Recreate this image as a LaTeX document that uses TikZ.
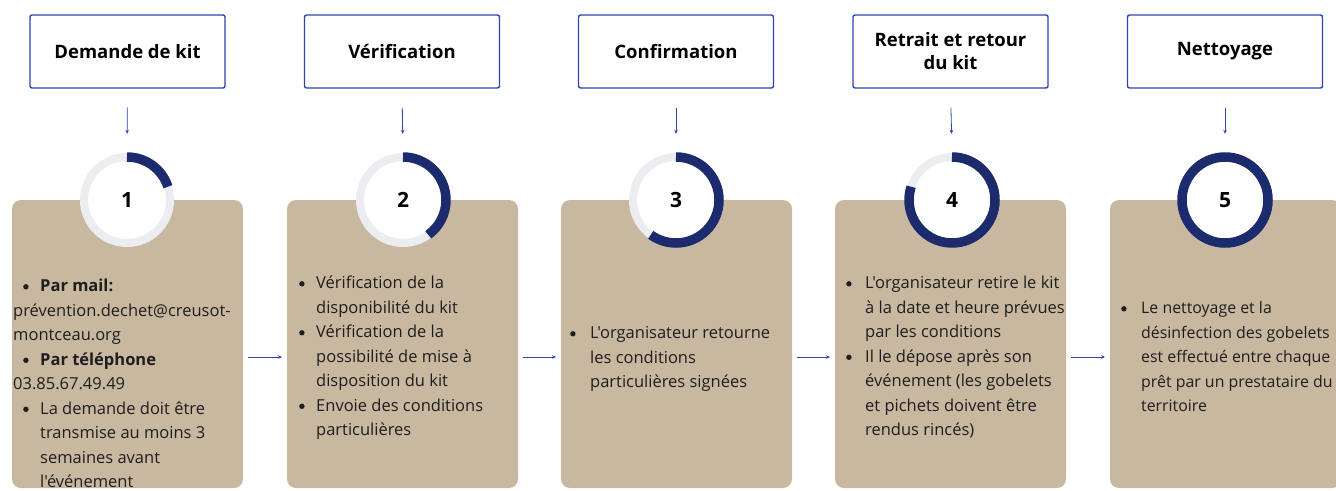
\documentclass[tikz,border=0pt]{standalone}
\usepackage{fontspec}
\setmainfont{Open Sans}[Ligatures=TeXOff]
\usetikzlibrary{arrows.meta}
\definecolor{tanbox}{HTML}{C9B8A0}
\definecolor{navy}{HTML}{1B2B6E}
\definecolor{ringgray}{HTML}{ECEDF0}
\definecolor{tblue}{HTML}{2E44B0}
\definecolor{txt}{HTML}{1E1E1E}
\newcommand{\bigdot}{\tikz[baseline=0pt]\fill[txt] (2.7pt,4.7pt) circle (2.7pt);}
\newcommand{\mybul}{\makebox[17pt][l]{\bigdot}}
\newcommand{\myind}{\hspace*{17pt}}
\newcommand{\bodytext}[2][16.5]{\parbox[t]{300pt}{\fontsize{#1}{24.5}\selectfont\raggedright #2}}
\tikzset{
  titlebox/.style={draw=tblue, line width=1.4pt, rounded corners=2pt, fill=white,
    minimum width=195pt, minimum height=73pt, align=center, inner sep=0pt,
    font=\fontsize{18.5}{23}\selectfont\bfseries, text=black},
  tancard/.style={fill=tanbox, rounded corners=9pt},
  stepcircle/.style={circle, minimum size=96pt, inner sep=0pt, font=\fontsize{21}{24}\selectfont\bfseries, text=black},
  bodynode/.style={anchor=base west, inner sep=0pt, text=txt},
  flow/.style={draw=tblue, line width=0.8pt, -{Stealth[length=4pt,width=3.5pt]}},
}
\begin{document}
\begin{tikzpicture}[x=1pt,y=-1pt]
\useasboundingbox (0,0) rectangle (1336,490);
\clip (0,0) rectangle (1336,490);
% tan cards
\foreach \c [count=\i] in {127.5,402.5,676.5,950.5,1225.5}{
  \path[tancard] (\c-115.5,200) rectangle (\c+115.5,488);
  \coordinate (cl\i) at (\c-115.5,357);
  \coordinate (cr\i) at (\c+115.5,357);
}
% title boxes
\node[titlebox] (t1) at (127.5,51.5) {Demande de kit};
\node[titlebox] (t2) at (402,51.5) {Vérification};
\node[titlebox] (t3) at (676,51.5) {Confirmation};
\node[titlebox] (t4) at (950.5,51.5) {Retrait et retour\\du kit};
\node[titlebox] (t5) at (1225,51.5) {Nettoyage};
% circles
\foreach \c/\k [count=\i] in {127/1,403/2,676/3,952/4,1225/5}{
  \draw[ringgray, line width=8pt, fill=white] (\c,200) circle (43);
  \draw[navy, line width=9.5pt] (\c,200) ++(-90:43) arc[start angle=-90, end angle=-90+72*\k, radius=43];
  \node[stepcircle] (s\i) at (\c,200) {\k};
}
% vertical arrows
\foreach \i in {1,...,5}{
  \draw[flow, shorten <=19pt, shorten >=18pt] (t\i.south) -- (s\i.north);
}
% horizontal connectors
\draw[flow, shorten <=5pt, shorten >=5pt] (cr1) -- (cl2);
\draw[flow, shorten <=5pt, shorten >=5pt] (cr2) -- (cl3);
\draw[flow, shorten <=5pt, shorten >=5pt] (cr3) -- (cl4);
\draw[flow, shorten <=5pt, shorten >=5pt] (cr4) -- (cl5);
% body texts
\node[bodynode] (b1) at (13,291.5) {\bodytext{%
\hspace*{10pt}\mybul\textbf{Par mail:}\\
prévention.dechet@creusot-\\
montceau.org\\
\hspace*{10pt}\mybul\textbf{Par téléphone}\\
03.85.67.49.49\\
\hspace*{10pt}\mybul La demande doit être\\
\hspace*{27pt}transmise au moins 3\\
\hspace*{27pt}semaines avant\\
\hspace*{27pt}l'événement}};
\node[bodynode] (b2) at (299,288.5) {\bodytext{%
\mybul Vérification de la\\
\myind disponibilité du kit\\
\mybul Vérification de la\\
\myind possibilité de mise à\\
\myind disposition du kit\\
\mybul Envoie des conditions\\
\myind particulières}};
\node[bodynode] (b3) at (570,338.5) {\bodytext{%
\makebox[20pt][l]{\bigdot}L'organisateur retourne\\
\hspace*{20pt}les conditions\\
\hspace*{20pt}particulières signées}};
\node[bodynode] (b4) at (846,288.5) {\bodytext{%
\makebox[19pt][l]{\bigdot}L'organisateur retire le kit\\
\hspace*{19pt}à la date et heure prévues\\
\hspace*{19pt}par les conditions\\
\makebox[19pt][l]{\bigdot}Il le dépose après son\\
\hspace*{19pt}événement (les gobelets\\
\hspace*{19pt}et pichets doivent être\\
\hspace*{19pt}rendus rincés)}};
\node[bodynode] (b5) at (1121,313.5) {\bodytext[15.9]{%
\makebox[20pt][l]{\bigdot}Le nettoyage et la\\
\hspace*{20pt}désinfection des gobelets\\
\hspace*{20pt}est effectué entre chaque\\
\hspace*{20pt}prêt par un prestataire du\\
\hspace*{20pt}territoire}};
\end{tikzpicture}
\end{document}
